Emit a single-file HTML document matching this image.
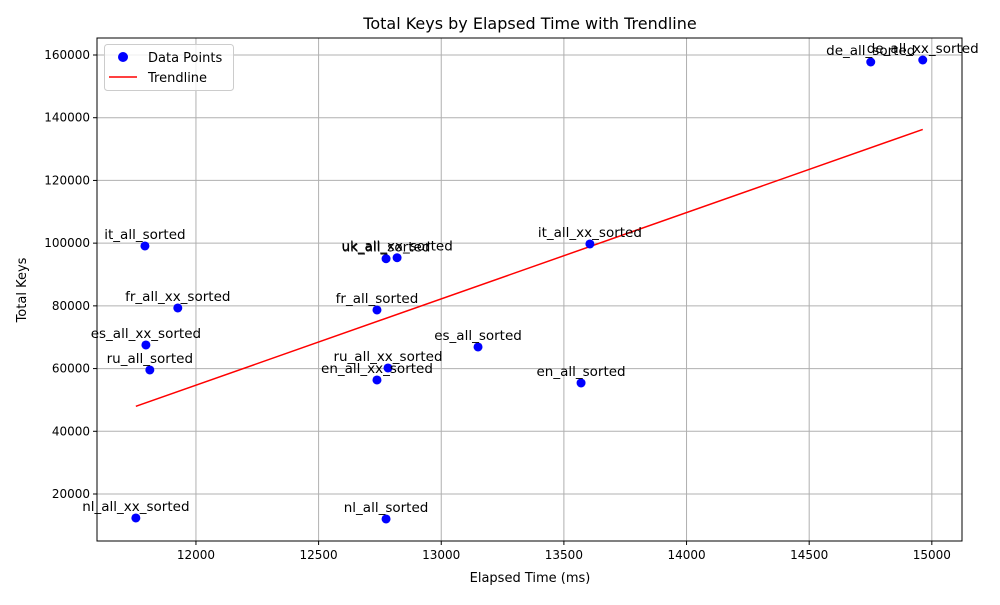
<!DOCTYPE html>
<html><head><meta charset="utf-8"><style>
body{margin:0;background:#fff;}
svg{font-family:"DejaVu Sans","Liberation Sans",sans-serif;}
</style></head><body>
<svg id="chart" width="1000" height="600" xmlns="http://www.w3.org/2000/svg">
<rect width="1000" height="600" fill="#fff"/>
<g id="grid"></g>
<g id="trend"></g>
<g id="pts"></g>
<g id="axes"></g>
<text x="530" y="29" font-size="16" text-anchor="middle">Total Keys by Elapsed Time with Trendline</text>
<text x="530" y="582" font-size="13" text-anchor="middle">Elapsed Time (ms)</text>
<text transform="translate(26,290) rotate(-90)" font-size="13" text-anchor="middle">Total Keys</text>
<g>
<rect x="104.5" y="44.5" width="129" height="46" rx="3" fill="#fff" fill-opacity="0.8" stroke="#ccc"/>
<circle cx="123" cy="57" r="5" fill="#0000ff"/>
<text x="148" y="62" font-size="13">Data Points</text>
<line x1="109" y1="77" x2="137" y2="77" stroke="red" stroke-width="1.5"/>
<text x="148" y="82" font-size="13">Trendline</text>
</g>
</svg>
<script>
const labels=["nl_all_xx_sorted","it_all_sorted","fr_all_xx_sorted","es_all_xx_sorted","ru_all_sorted","uk_all_sorted","uk_all_xx_sorted","fr_all_sorted","ru_all_xx_sorted","en_all_xx_sorted","nl_all_sorted","es_all_sorted","it_all_xx_sorted","en_all_sorted","de_all_sorted","de_all_xx_sorted"];
const times=[11755,11792,11926,11796,11812,12775,12820,12738,12783,12738,12775,13150,13606,13570,14751,14963];
const keys=[12360,99094,79324,67524,59554,95026,95345,78686,60192,56365,12041,66887,99732,55408,157768,158406];
const xTicks=[12000,12500,13000,13500,14000,14500,15000];
const yTicks=[20000,40000,60000,80000,100000,120000,140000,160000];
const L=97,R=962,T=38,B=541;
const X0=11596.6,X1=15123,Y0=5013,Y1=165421;
const sx=v=>L+(v-X0)/(X1-X0)*(R-L);
const sy=v=>B-(v-Y0)/(Y1-Y0)*(B-T);
const NS="http://www.w3.org/2000/svg";
function mk(tag,attrs,parent,text){const e=document.createElementNS(NS,tag);for(const k in attrs)e.setAttribute(k,attrs[k]);if(text!==undefined)e.textContent=text;parent.appendChild(e);return e;}
const grid=document.getElementById('grid'),axes=document.getElementById('axes');
xTicks.forEach(t=>{const x=sx(t);
 const g=mk('line',{x1:x,x2:x,y1:T,y2:B,stroke:'#b0b0b0','stroke-width':1},grid);
 
 
 mk('line',{x1:x,x2:x,y1:B,y2:B+4,stroke:'#000'},axes);
 const tl=mk('text',{x:x,y:B+18,'font-size':12,'text-anchor':'middle'},axes,t);
 
 
});
yTicks.forEach(t=>{const y=sy(t);
 const g=mk('line',{x1:L,x2:R,y1:y,y2:y,stroke:'#b0b0b0','stroke-width':1},grid);
 
 
 mk('line',{x1:L-4,x2:L,y1:y,y2:y,stroke:'#000'},axes);
 const tl=mk('text',{x:L-7,y:y+4,'font-size':12,'text-anchor':'end'},axes,t);
 
 
});
const fr=mk('rect',{x:L,y:T,width:R-L,height:B-T,fill:'none',stroke:'#000','stroke-width':1},axes);


const n=times.length;const mx=times.reduce((a,b)=>a+b)/n,my=keys.reduce((a,b)=>a+b)/n;
let num=0,den=0;for(let i=0;i<n;i++){num+=(times[i]-mx)*(keys[i]-my);den+=(times[i]-mx)**2;}
const m=num/den,b=my-m*mx;const tmin=Math.min(...times),tmax=Math.max(...times);
const tr=mk('line',{x1:sx(tmin),y1:sy(m*tmin+b),x2:sx(tmax),y2:sy(m*tmax+b),stroke:'red','stroke-width':1.5},document.getElementById('trend'));


const pts=document.getElementById('pts');
labels.forEach((lb,i)=>{const x=sx(times[i]),y=sy(keys[i]);
 const c=mk('circle',{cx:x,cy:y,r:4.5,fill:'#0000ff'},pts);
 
 
 const t=mk('text',{x:x,y:y-7,'font-size':13.5,'text-anchor':'middle'},pts,lb);
 
 
});
</script>
</body></html>
